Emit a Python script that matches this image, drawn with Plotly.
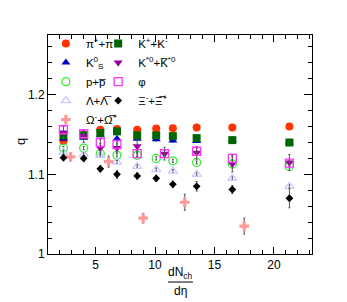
import plotly.graph_objects as go

# ---- data ----
x_main = [2.3, 4.0, 5.4, 6.8, 8.5, 10.1, 11.5, 13.5, 16.5, 21.3]
x_res = [2.3, 4.0, 5.4, 6.8, 8.5, 10.8, 13.5, 16.5, 21.3]
x_omega = [2.9, 6.1, 9.0, 12.5, 17.5]

q_pion = [1.142, 1.150, 1.156, 1.157, 1.156, 1.1575, 1.158, 1.159, 1.159, 1.160]
e_pion = [0.001] * 10
q_kaon = [1.149, 1.149, 1.152, 1.154, 1.149, 1.149, 1.148, 1.1455, 1.143, 1.140]
e_kaon = [0.002] * 10
q_k0s = [1.1446, 1.146, 1.149, 1.1446, 1.1446, 1.144, 1.1425, 1.142, 1.143, 1.140]
e_k0s = [0.002] * 10
q_kstar = [1.1525, 1.148, 1.133, 1.133, 1.1354, 1.126, 1.127, 1.113, 1.115]
e_kstar = [0.008, 0.008, 0.006, 0.006, 0.008, 0.008, 0.008, 0.010, 0.010]
q_proton = [1.133, 1.133, 1.126, 1.124, 1.124, 1.120, 1.117, 1.115, 1.113, 1.110]
e_proton = [0.002] * 10
q_phi = [1.156, 1.151, 1.140, 1.1375, 1.126, 1.126, 1.129, 1.120, 1.114]
e_phi = [0.004] * 9
q_lambda = [1.128, 1.125, 1.124, 1.1154, 1.110, 1.106, 1.104, 1.100, 1.095, 1.085]
e_lambda = [0.002] * 10
q_xi = [1.121, 1.120, 1.107, 1.100, 1.098, 1.095, 1.0875, 1.085, 1.081, 1.070]
e_xi = [0.004, 0.004, 0.004, 0.005, 0.004, 0.004, 0.004, 0.006, 0.005, 0.012]
q_omega = [1.122, 1.116, 1.045, 1.065, 1.035]
e_omega = [0.005, 0.007, 0.006, 0.010, 0.010]

series = [
    # name, x, y, err, symbol, color, size, legend
    ("π<sup>+</sup>+π<sup>-</sup>", x_main, q_pion, e_pion, "circle", "#ff3300", 8, "legend"),
    ("K<sup>+</sup>+K<sup>-</sup>", x_main, q_kaon, e_kaon, "square", "#006600", 8, "legend2"),
    ("K<sup>0</sup><sub>S</sub>", x_main, q_k0s, e_k0s, "triangle-up", "#0000cc", 8, "legend"),
    ("K<sup>*0</sup>+K̅<sup>*0</sup>", x_res, q_kstar, e_kstar, "triangle-down", "#990099", 8, "legend2"),
    ("p+p̅", x_main, q_proton, e_proton, "circle-open", "#33ee33", 8, "legend"),
    ("φ", x_res, q_phi, e_phi, "square-open", "#ff33ff", 8, "legend2"),
    ("Λ+Λ̅", x_main, q_lambda, e_lambda, "triangle-up-open", "#c8c8ff", 8, "legend"),
    ("Ξ<sup>-</sup>+Ξ̅<sup>+</sup>", x_main, q_xi, e_xi, "diamond", "#000000", 6, "legend2"),
    ("Ω<sup>-</sup>+Ω̅<sup>+</sup>", x_omega, q_omega, e_omega, "cross", "#ff9999", 8, "legend"),
]

fig = go.Figure()
for i in [0, 2, 4, 6, 8, 1, 3, 5, 7]:
    name, xs, ys, es, sym, col, sz, leg = series[i]
    fig.add_trace(go.Scatter(
        x=xs, y=ys, mode="markers", name=name, legend=leg,
        marker=dict(symbol=sym, color=col, size=sz,
                    line=dict(width=1.3 if "open" in sym else 0, color=col)),
        error_y=dict(type="data", array=es, color="#555555", thickness=1, width=1),
    ))

# the page body has an 8px margin, so the figure is sized to fit the window
fig.update_layout(
    width=339, height=294,
    margin=dict(l=40, r=35, t=27, b=48),
    paper_bgcolor="white", plot_bgcolor="white",
    font=dict(family="Liberation Sans, Arial, sans-serif", size=12, color="black"),
    showlegend=True,
    legend=dict(x=-0.008, y=1.027, xanchor="left", yanchor="top",
                bgcolor="rgba(0,0,0,0)", font=dict(size=11.5), tracegroupgap=0),
    legend2=dict(x=0.19, y=1.027, xanchor="left", yanchor="top",
                 bgcolor="rgba(0,0,0,0)", font=dict(size=11.5), tracegroupgap=0),
)
fig.update_xaxes(range=[1, 23.2], tickmode="array", tickvals=[5, 10, 15, 20],
                 ticks="inside", ticklen=7, tickcolor="black", showline=True,
                 linecolor="black", linewidth=1, mirror="ticks", showgrid=False,
                 zeroline=False,
                 minor=dict(dtick=1, tick0=0, ticks="inside", ticklen=4,
                            tickcolor="black", showgrid=False))
fig.update_yaxes(range=[1, 1.275], tickmode="array", tickvals=[1, 1.1, 1.2],
                 ticktext=["1", "1.1", "1.2"],
                 ticks="inside", ticklen=8, tickcolor="black", showline=True,
                 linecolor="black", linewidth=1, mirror="ticks", showgrid=False,
                 zeroline=False,
                 minor=dict(dtick=0.02, tick0=1, ticks="inside", ticklen=4,
                            tickcolor="black", showgrid=False))

fig.add_annotation(text="dN<sub>ch</sub>", xref="paper", yref="paper",
                   x=0.5, y=-0.087, xanchor="center", yanchor="middle",
                   showarrow=False, font=dict(size=12))
fig.add_shape(type="line", xref="paper", yref="paper", x0=0.4545, x1=0.549,
              y0=-0.128, y1=-0.128, line=dict(color="black", width=1))
fig.add_annotation(text="dη", xref="paper", yref="paper",
                   x=0.5, y=-0.169, xanchor="center", yanchor="middle",
                   showarrow=False, font=dict(size=12))
fig.add_annotation(text="q", xref="paper", yref="paper", x=-0.106, y=0.511,
                   xanchor="center", yanchor="middle",
                   textangle=-90, showarrow=False, font=dict(size=13))

fig.write_html("out.html")
